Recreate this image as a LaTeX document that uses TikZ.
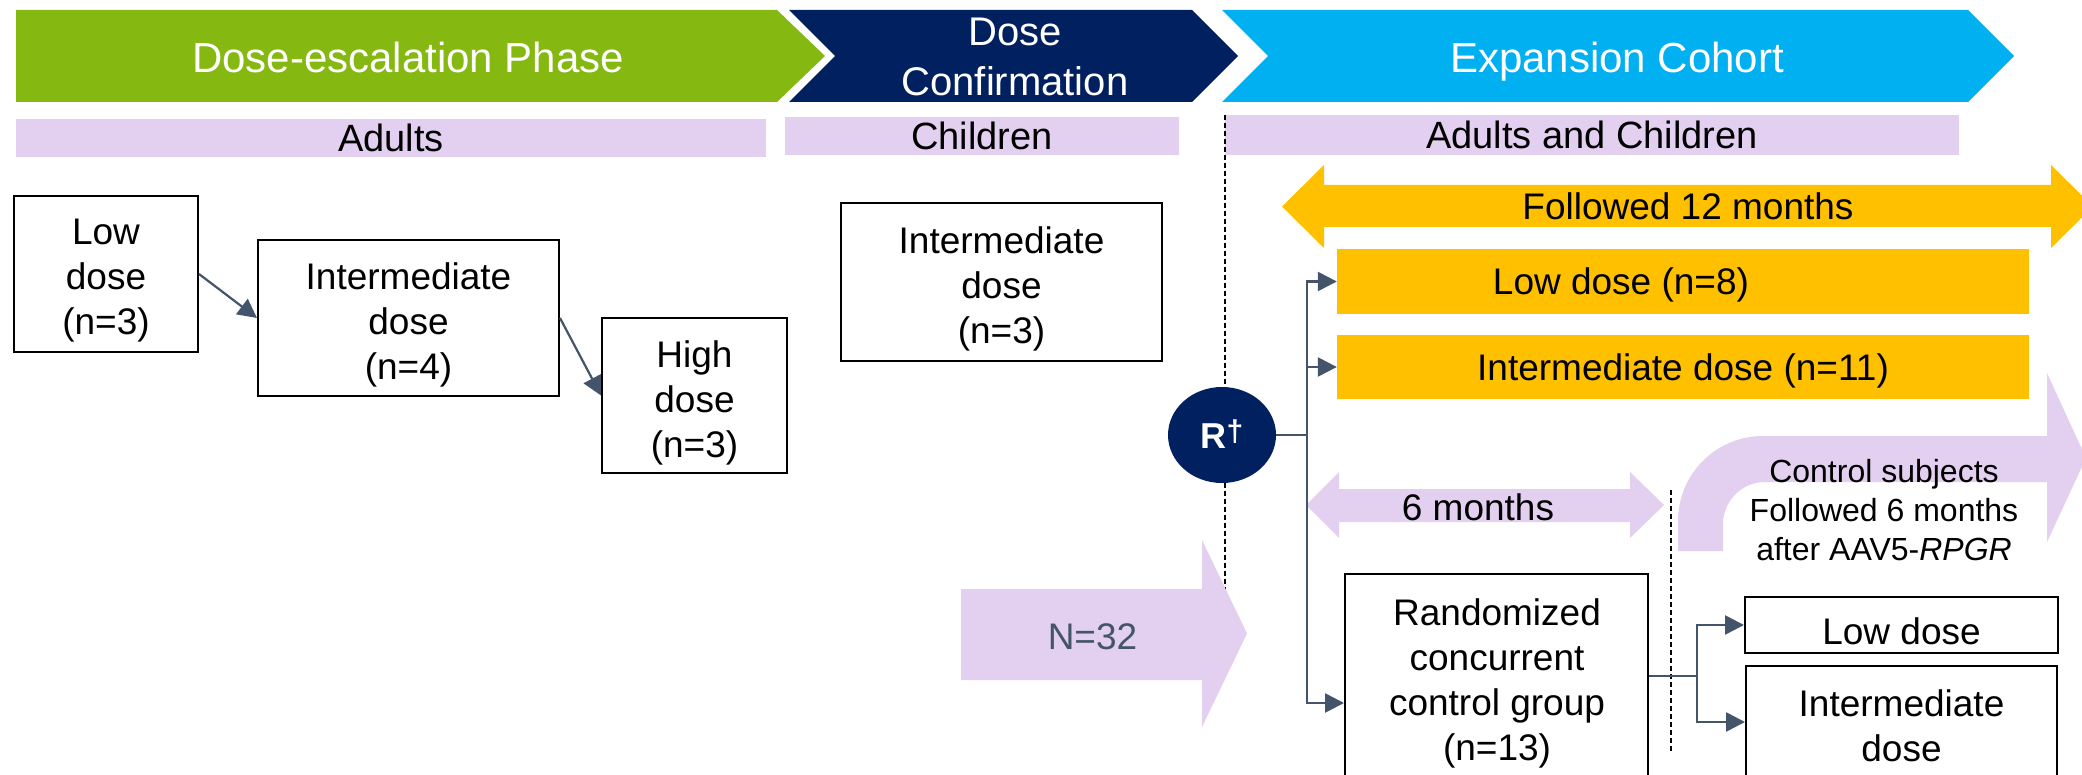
\documentclass[tikz,border=0pt]{standalone}
\usepackage{fontspec}
\setmainfont{Liberation Sans}
\usetikzlibrary{arrows.meta,shapes.geometric}
\definecolor{cgreen}{HTML}{85B911}
\definecolor{cnavy}{HTML}{002060}
\definecolor{cblue}{HTML}{00B0F0}
\definecolor{clav}{HTML}{E3D0F0}
\definecolor{corange}{HTML}{FFC000}
\definecolor{cslate}{HTML}{44546A}
\begin{document}
\begin{tikzpicture}[x=1pt,y=-1pt,
  box/.style={draw=black, line width=2pt, fill=white, inner sep=0pt},
  btxt/.style={font=\fontsize{37}{45}\selectfont, align=center, inner sep=0pt},
  obox/.style={fill=corange, draw=none, inner sep=0pt},
  lav/.style={fill=clav, draw=none, inner sep=0pt, font=\fontsize{38}{45}\selectfont},
  hdr/.style={text=white, font=\fontsize{42}{50}\selectfont, align=center, inner sep=0pt},
  conn/.style={draw=cslate, line width=2.5pt},
  tip/.style={-{Triangle[length=19pt,width=19pt]}},
  txt/.style={font=\fontsize{37}{45}\selectfont, align=center, anchor=base, inner sep=0pt},
  vdash/.style={draw=black, line width=1.5pt, dash pattern=on 5pt off 3pt},
]
\useasboundingbox (0,0) rectangle (2082,775);
\clip (0,0) rectangle (2082,775);
\fill[white] (0,0) rectangle (2082,775);

% header chevrons
\fill[cgreen] (16,10) -- (777,10) -- (825,56) -- (777,102) -- (16,102) -- cycle;
\fill[cnavy] (789,10) -- (1192,10) -- (1238,56) -- (1192,102) -- (789,102) -- (835,56) -- cycle;
\fill[cblue] (1222,10) -- (1968,10) -- (2014,56) -- (1968,102) -- (1222,102) -- (1268,56) -- cycle;
\node[hdr, anchor=base] (hA) at (408,72.5) {Dose-escalation Phase};
\node[hdr, font=\fontsize{40}{50}\selectfont] (hB) at (1015,57.4) {Dose\\Confirmation};
\node[hdr, anchor=base] (hC) at (1617,72.5) {Expansion Cohort};

% population bars
\node[lav, minimum width=750, minimum height=38] (barA) at (391,138) {Adults};
\node[lav, minimum width=394, minimum height=38] (barC) at (982,136) {Children};
\node[lav, minimum width=734, minimum height=40] (barE) at (1592,135) {Adults and Children};

% dashed lines
\draw[vdash] (barE.north west) -- ++(0,530);
\draw[vdash] (1671,490) -- (1671,752);

% dose-escalation boxes
\node[box, minimum width=184, minimum height=156] (lowA) at (106,274) {};
\node[btxt] (lowAT) at (106,281) {Low\\dose\\(n=3)};
\node[box, minimum width=301, minimum height=156] (intA) at (408.5,318) {};
\node[btxt] (intAT) at (408.5,325) {Intermediate\\dose\\(n=4)};
\node[box, minimum width=185, minimum height=155] (highA) at (694.5,395.5) {};
\node[btxt] (highAT) at (694.5,402.5) {High\\dose\\(n=3)};
\draw[conn, line width=2.2pt, tip] (lowA.east) -- (intA.west);
\draw[conn, line width=2.2pt, tip] (intA.east) -- (highA.west);

% dose confirmation box
\node[box, minimum width=321, minimum height=158] (intC) at (1001.5,282) {};
\node[btxt] (intCT) at (1001.5,289) {Intermediate\\dose\\(n=3)};

% N=32 block arrow
\fill[clav] (961,589) -- (1202,589) -- (1202,540) -- (1247,633.5) -- (1202,727) -- (1202,680) -- (961,680) -- cycle;
\node[txt, text=cslate] (N) at (1092.5,649) {N=32};

% followed 12 months
\fill[corange] (1282,206.5) -- (1324,165) -- (1324,185) -- (2051,185) -- (2051,165) -- (2093,206.5) -- (2051,248) -- (2051,227) -- (1324,227) -- (1324,248) -- cycle;
\node[txt] (f12) at (1688,220) {Followed 12 months};

% expansion dose boxes
\node[obox, minimum width=692, minimum height=65] (lowE) at (1683,281.5) {};
\node[txt] (lowET) at (1621,295) {Low dose (n=8)};
\node[obox, minimum width=692, minimum height=64] (intE) at (1683,367) {};
\node[txt] (intET) at (1683,381) {Intermediate dose (n=11)};

% 6 months
\fill[clav] (1306,505) -- (1339,472) -- (1339,489) -- (1630,489) -- (1630,472) -- (1664,505) -- (1630,538) -- (1630,522) -- (1339,522) -- (1339,538) -- cycle;
\node[txt] (m6) at (1478,520) {6 months};

% curved arrow for control subjects
\fill[clav] (1678,551) -- (1678,521) .. controls (1678,474) and (1716,436) .. (1763,436) -- (2047,436) -- (2047,373) -- (2086,458) -- (2047,542) -- (2047,482) -- (1765,482) .. controls (1742,482) and (1723,501) .. (1723,524) -- (1723,551) -- cycle;
\node[font=\fontsize{32}{39}\selectfont, align=center, inner sep=0pt] (ctrlsub) at (1884,510) {Control subjects\\Followed 6 months\\after AAV5-\textit{RPGR}};

% randomization
\node[ellipse, fill=cnavy, minimum width=108, minimum height=96, inner sep=0pt] (R) at (1222,435) {};
\node[anchor=base, text=white, inner sep=0pt, font=\bfseries\fontsize{36}{36}\selectfont] (Rt) at (1222,448) {R\raisebox{7pt}{\fontsize{30}{30}\selectfont †}};

% control group
\node[box, minimum width=303, minimum height=258] (ctrl) at (1496.5,703) {};
\node[btxt] (ctrlT) at (1497,683) {Randomized\\concurrent\\control group\\(n=13)};
\node[box, minimum width=313, minimum height=56] (lowR) at (1901.5,625) {};
\node[btxt] (lowRT) at (1901.5,631) {Low dose};
\node[box, minimum width=311, minimum height=112] (intR) at (1901.5,722) {};
\node[btxt] (intRT) at (1901.5,726) {Intermediate\\dose};

% connectors from R
\coordinate (trunk) at (1307,435);
\draw[conn] (R.east) -- (trunk);
\draw[conn, tip] (trunk) |- (lowE.west);
\draw[conn, tip] (trunk) |- (intE.west);
\draw[conn, tip] (trunk) |- (ctrl.west);

% connectors from control group
\coordinate (split) at (1697,676);
\draw[conn] (ctrl.east |- split) -- (split);
\draw[conn, tip] (split) |- (lowR.west);
\draw[conn, tip] (split) |- (intR.west);
\end{tikzpicture}
\end{document}
